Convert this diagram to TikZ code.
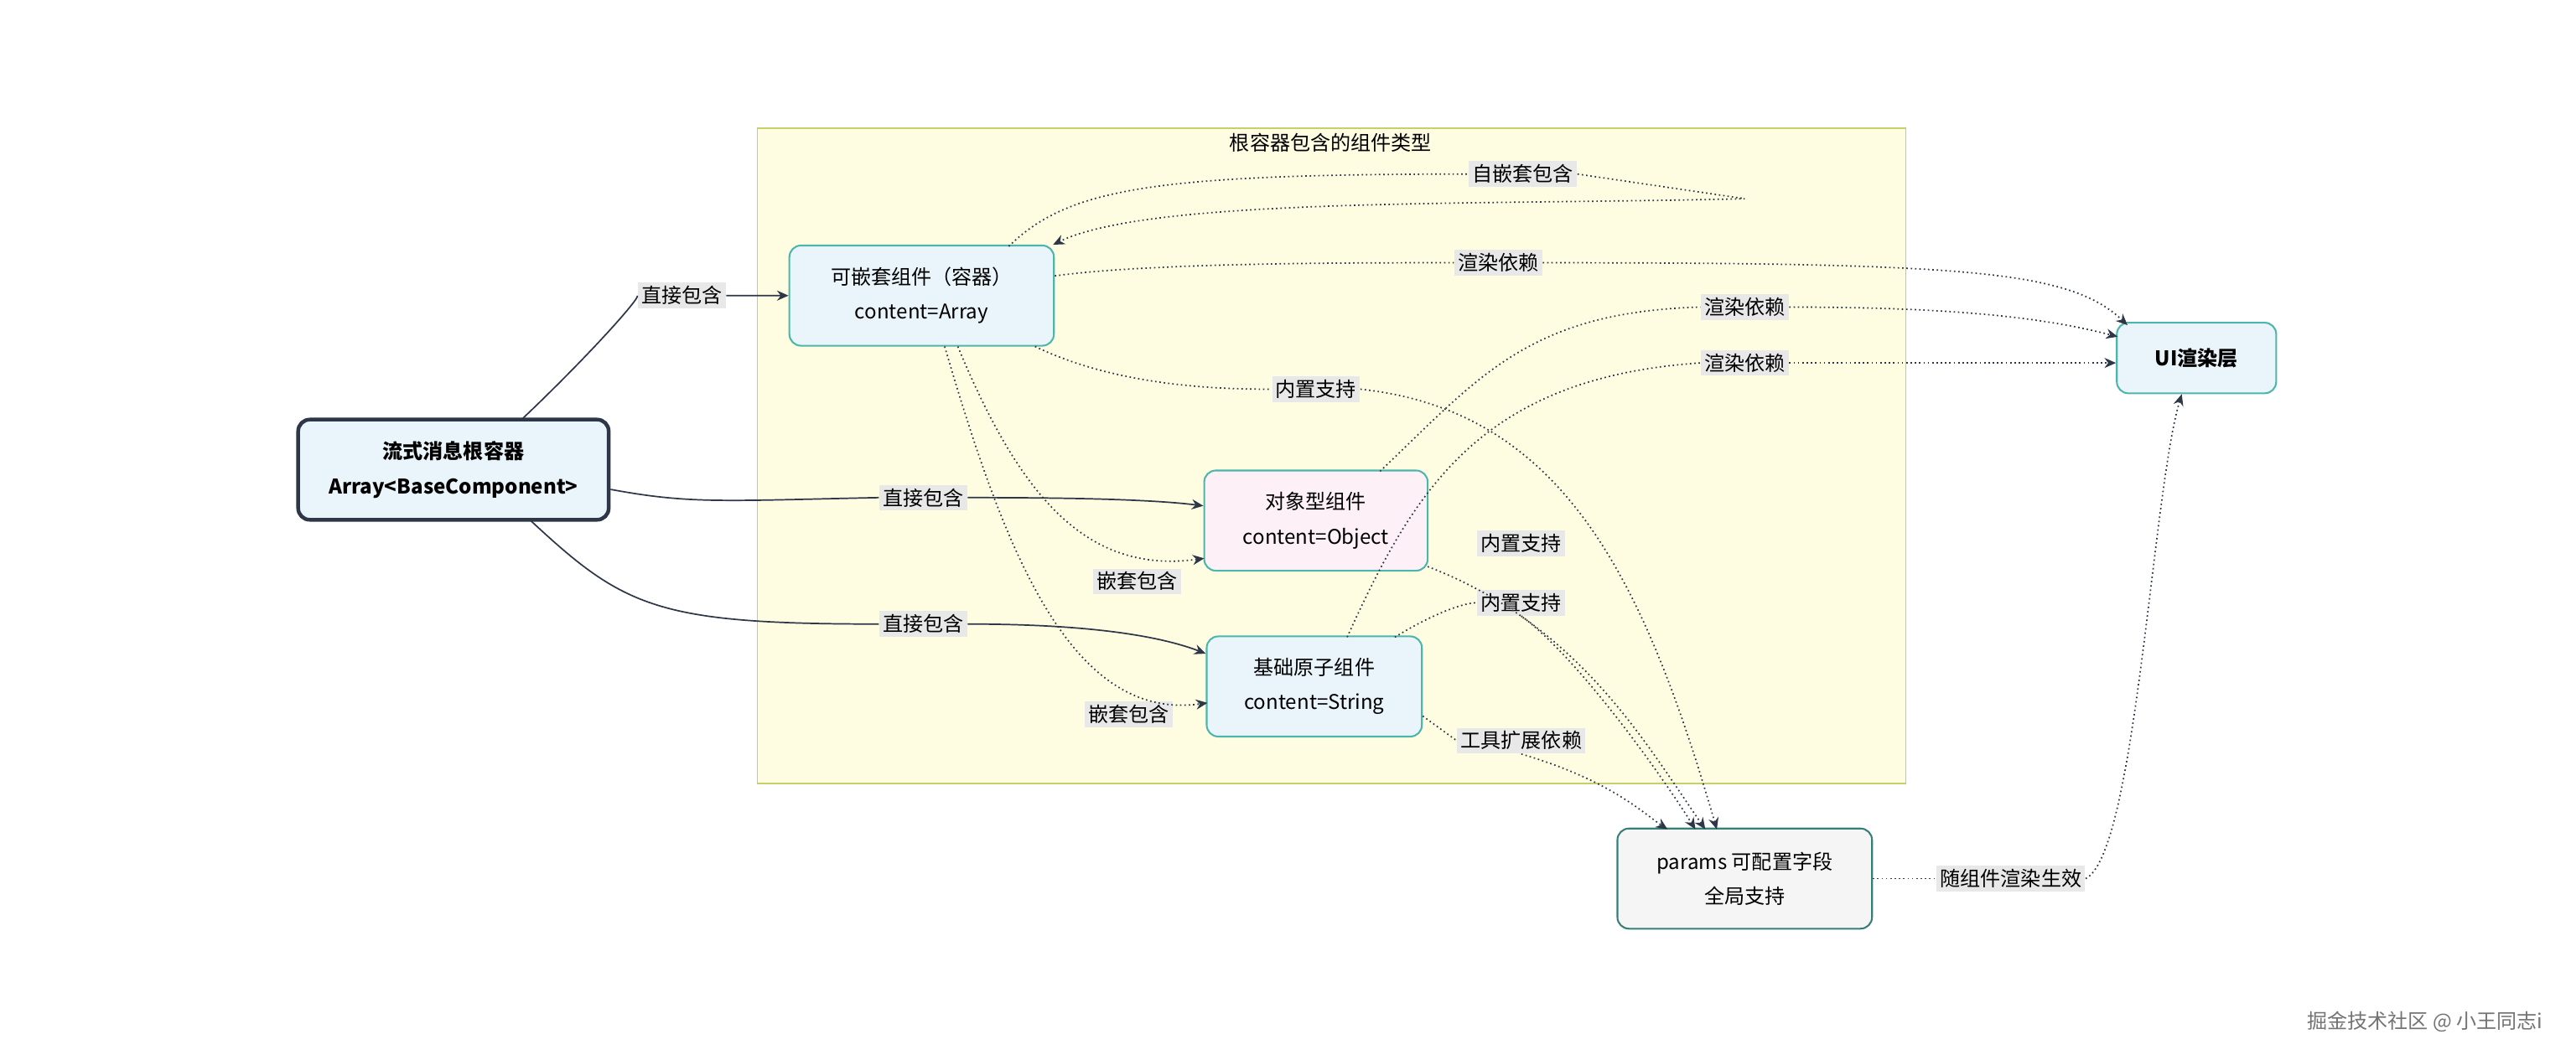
\documentclass[tikz,border=0pt]{standalone}
\usepackage{fontspec}
\setmainfont{Noto Sans CJK SC}
\usetikzlibrary{arrows.meta}
\definecolor{teal1}{HTML}{4DB6AC}
\definecolor{bluef}{HTML}{EAF5FB}
\definecolor{pinkf}{HTML}{FDF1F7}
\definecolor{yel}{HTML}{FFFDE1}
\definecolor{yeld}{HTML}{C8CE6A}
\definecolor{lblg}{HTML}{E8E8E8}
\definecolor{dk}{HTML}{2D3748}
\tikzset{
 box/.style={draw=teal1,line width=0.6pt,rounded corners=4pt,fill=bluef,align=center,font=\fontsize{7}{12}\selectfont,inner sep=0pt},
 lbl/.style={fill=lblg,inner sep=1.2pt,font=\fontsize{7}{8}\selectfont},
 sol/.style={draw=dk,line width=0.5pt,-{Stealth[length=4pt,width=3.5pt]}},
 dot/.style={draw=dk,line width=0.5pt,densely dotted,-{Stealth[length=4pt,width=3.5pt]}},
 dotn/.style={draw=dk,line width=0.5pt,densely dotted},
}
\begin{document}
\begin{tikzpicture}[x=0.02cm,y=-0.02cm]
\useasboundingbox (0,0) rectangle (1568,645);
\node[draw=yeld,fill=yel,line width=0.5pt,minimum width=699*0.02cm,minimum height=399*0.02cm,inner sep=0pt] (cont) at (810.5,277.5) {};
\node[font=\fontsize{7}{8}\selectfont] (title) at (810,87) {根容器包含的组件类型};
\node[box,draw=dk,line width=1.3pt,minimum width=189*0.02cm,minimum height=61*0.02cm,font=\bfseries\fontsize{7}{12}\selectfont] (root) at (276,286) {流式消息根容器\\Array<BaseComponent>};
\node[box,minimum width=161*0.02cm,minimum height=61*0.02cm] (nest) at (561,180) {可嵌套组件（容器）\\content=Array};
\node[box,fill=pinkf,minimum width=136*0.02cm,minimum height=61*0.02cm] (obj) at (801,317) {对象型组件\\content=Object};
\node[box,minimum width=131*0.02cm,minimum height=61*0.02cm] (basic) at (800,418) {基础原子组件\\content=String};
\node[box,minimum width=97*0.02cm,minimum height=43*0.02cm,font=\bfseries\fontsize{7}{9}\selectfont] (ui) at (1337,218) {UI渲染层};
\node[box,draw=teal1!70!black,fill=black!4,minimum width=155*0.02cm,minimum height=61*0.02cm] (par) at (1062,535) {params 可配置字段\\全局支持};
\node[font=\fontsize{7}{8}\selectfont,text=black!55] (wm) at (1476,622) {掘金技术社区 @ 小王同志i};
% labels
\node[lbl] (l1) at (415,180) {直接包含};
\node[lbl] (l2) at (562,303) {直接包含};
\node[lbl] (l3) at (562,380) {直接包含};
\node[lbl] (l4) at (927,106) {自嵌套包含};
\node[lbl] (l5) at (912,160) {渲染依赖};
\node[lbl] (l6) at (1062,187) {渲染依赖};
\node[lbl] (l7) at (1062,221) {渲染依赖};
\node[lbl] (l8) at (801,237) {内置支持};
\node[lbl] (l9) at (926,331) {内置支持};
\node[lbl] (l10) at (926,367) {内置支持};
\node[lbl] (l11) at (926,451) {工具扩展依赖};
\node[lbl] (l12) at (692,354) {嵌套包含};
\node[lbl] (l13) at (687,435) {嵌套包含};
\node[lbl] (l14) at (1224,535) {随组件渲染生效};
\coordinate (loop) at (1062,121);
% solid edges
\draw[sol] (318,255) .. controls (360,215) and (390,181) .. (l1.west) (l1.east) -- (nest.west);
\draw[sol] (root.east |- 0,298) .. controls (420,307) and (440,305) .. (l2.west) (l2.east) .. controls (650,303) and (700,304) .. (obj.west |- 0,308);
\draw[sol] (323,317) .. controls (380,370) and (400,380) .. (l3.west) (l3.east) .. controls (650,380) and (700,385) .. (basic.west |- 0,398);
% self loop
\draw[dotn] (614,150) .. controls (650,115) and (700,106) .. (l4.west);
\draw[dot] (l4.east) -- (loop) .. controls (900,125) and (700,120) .. (641,149);
% render deps
\draw[dot] (nest.east |- 0,168) .. controls (700,160) and (820,160) .. (l5.west) (l5.east) .. controls (1200,160) and (1260,165) .. (1295,198);
\draw[dotn] (840,287) .. controls (900,230) and (930,190) .. (l6.west);
\draw[dot] (l6.east) .. controls (1200,187) and (1250,195) .. (1289,205);
\draw[dotn] (820,388) .. controls (860,300) and (900,230) .. (l7.west);
\draw[dot] (l7.east) -- (ui.west |- 0,221);
% builtin support
\draw[dotn] (630,211) .. controls (680,235) and (740,237) .. (l8.west);
\draw[dot] (l8.east) .. controls (950,250) and (1000,350) .. (1045,505);
\draw[dot] (869,345) .. controls (960,380) and (1000,450) .. (1038,505);
\draw[dotn] (849,388) .. controls (870,375) and (890,367) .. (l10.west);
\draw[dot] (l10.south) .. controls (960,400) and (1010,470) .. (1032,505);
\draw[dotn] (866,436) -- (l11.west);
\draw[dot] (l11.south) .. controls (980,475) and (1000,495) .. (1015,505);
% nested
\draw[dot] (583,211) .. controls (620,300) and (660,350) .. (733,340);
\draw[dot] (575,211) .. controls (610,330) and (650,440) .. (735,428);
% params to UI
\draw[dotn] (par.east) -- (l14.west);
\draw[dot] (l14.east) .. controls (1300,520) and (1310,300) .. (1328,240);
\end{tikzpicture}
\end{document}
